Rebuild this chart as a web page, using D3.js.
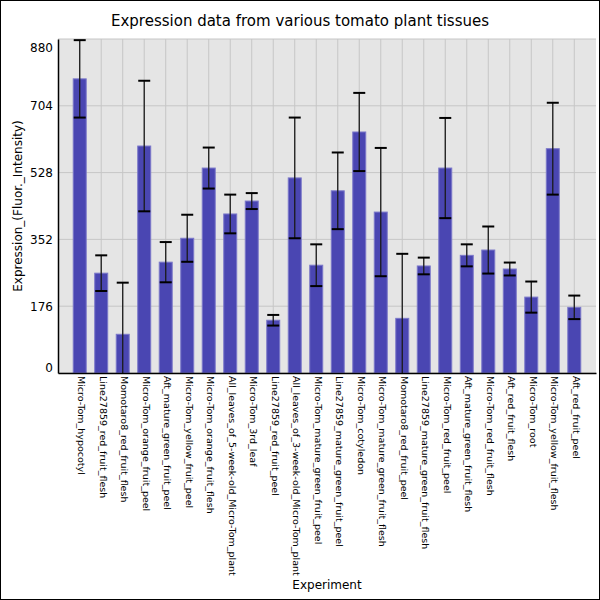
<!DOCTYPE html>
<meta charset="utf-8">
<html>
  <head>
    <title>Expression data from various tomato plant tissues</title>
    <script src="https://d3js.org/d3.v7.min.js"></script>
    <style>
      body {
        margin: 0;
        font-family: "DejaVu Sans", sans-serif;
      }
      .grid line {
        stroke: #c6c6c6;
        stroke-width: 1px;
      }
      .bar {
        fill: #4a46b2;
        stroke: #7b78c9;
        stroke-width: 1px;
      }
      .err {
        stroke: #1a1a1a;
        stroke-width: 1.3px;
      }
      .cap {
        stroke: #000;
        stroke-width: 2px;
      }
    </style>
  </head>
  <body>

    <svg id="chart" width="600" height="600"></svg>

    <script>
      // Dados
      const experiments = [
        "Micro-Tom_hypocotyl",
        "Line27859_red_fruit_flesh",
        "Momotaro8_red_fruit_flesh",
        "Micro-Tom_orange_fruit_peel",
        "Aft_mature_green_fruit_peel",
        "Micro-Tom_yellow_fruit_peel",
        "Micro-Tom_orange_fruit_flesh",
        "All_leaves_of_5-week-old_Micro-Tom_plant",
        "Micro-Tom_3rd_leaf",
        "Line27859_red_fruit_peel",
        "All_leaves_of_3-week-old_Micro-Tom_plant",
        "Micro-Tom_mature_green_fruit_peel",
        "Line27859_mature_green_fruit_peel",
        "Micro-Tom_cotyledon",
        "Micro-Tom_mature_green_fruit_flesh",
        "Momotaro8_red_fruit_peel",
        "Line27859_mature_green_fruit_flesh",
        "Micro-Tom_red_fruit_peel",
        "Aft_mature_green_fruit_flesh",
        "Micro-Tom_red_fruit_flesh",
        "Aft_red_fruit_flesh",
        "Micro-Tom_root",
        "Micro-Tom_yellow_fruit_flesh",
        "Aft_red_fruit_peel"
      ];
      const expression = [775, 263, 102, 598, 292, 355, 540, 419, 453, 139, 514, 284,
                          480, 635, 424, 144, 282, 540, 310, 324, 274, 200, 591, 173];
      const errors = [102, 47, 136, 172, 53, 62, 54, 51, 21, 14, 159, 55,
                      101, 103, 169, 170, 22, 132, 29, 62, 17, 41, 121, 31];
      const yTicks = [0, 176, 352, 528, 704, 880];

      const margin = {top: 39, right: 4, bottom: 227, left: 58};
      const width = 600, height = 600;

      const svg = d3.select("#chart");

      // moldura externa
      svg.append("rect")
         .attr("x", 0.5).attr("y", 0.5)
         .attr("width", width - 1).attr("height", height - 1)
         .attr("fill", "#fff").attr("stroke", "#000");

      const x = d3.scaleBand()
                  .domain(experiments)
                  .range([margin.left, width - margin.right])
                  .paddingInner(0.35)
                  .paddingOuter(0.685);

      const y = d3.scaleLinear()
                  .domain([0, 880])
                  .range([height - margin.bottom, margin.top]);

      // fundo do gráfico
      svg.append("rect")
         .attr("x", margin.left).attr("y", margin.top)
         .attr("width", width - margin.right - margin.left)
         .attr("height", height - margin.bottom - margin.top)
         .attr("fill", "#e5e5e5");

      // grades
      svg.append("g").attr("class", "grid")
         .selectAll("line")
         .data(yTicks)
         .join("line")
           .attr("x1", margin.left).attr("x2", width - margin.right)
           .attr("y1", d => y(d)).attr("y2", d => y(d));

      svg.append("g").attr("class", "grid")
         .selectAll("line")
         .data(experiments)
         .join("line")
           .attr("x1", d => x(d) + x.bandwidth() / 2)
           .attr("x2", d => x(d) + x.bandwidth() / 2)
           .attr("y1", margin.top).attr("y2", height - margin.bottom);

      // barras
      svg.append("g")
         .selectAll("rect")
         .data(experiments)
         .join("rect")
           .attr("class", "bar")
           .attr("x", d => x(d) + 0.5)
           .attr("width", x.bandwidth() - 1)
           .attr("y", (d, i) => y(expression[i]))
           .attr("height", (d, i) => y(0) - y(expression[i]));

      // barras de erro
      const errG = svg.append("g");
      experiments.forEach((d, i) => {
        const cx = x(d) + x.bandwidth() / 2;
        const hi = expression[i] + errors[i];
        const lo = Math.max(0, expression[i] - errors[i]);
        errG.append("line").attr("class", "err")
            .attr("x1", cx).attr("x2", cx)
            .attr("y1", y(hi)).attr("y2", y(lo));
        errG.append("line").attr("class", "cap")
            .attr("x1", cx - 6).attr("x2", cx + 6)
            .attr("y1", y(hi)).attr("y2", y(hi));
        if (expression[i] - errors[i] > 0) {
          errG.append("line").attr("class", "cap")
              .attr("x1", cx - 6).attr("x2", cx + 6)
              .attr("y1", y(lo)).attr("y2", y(lo));
        }
      });

      // eixo Y
      const yAxis = svg.append("g")
         .attr("transform", `translate(${margin.left},0)`)
         .call(d3.axisLeft(y).tickValues(yTicks).tickSize(0).tickPadding(5));
      yAxis.select(".domain").attr("stroke", "#000").attr("stroke-width", 1.5);
      yAxis.selectAll("text")
           .attr("font-family", "DejaVu Sans")
           .attr("font-size", 12)
           .attr("fill", "#000")
           .attr("dy", d => d === 880 ? "1em" : d === 0 ? "-0.15em" : "0.32em");

      // eixo X
      const xAxis = svg.append("g")
         .attr("transform", `translate(0,${height - margin.bottom})`)
         .call(d3.axisBottom(x).tickSize(0).tickPadding(0));
      xAxis.select(".domain").attr("stroke", "#000").attr("stroke-width", 1.5);
      xAxis.selectAll("text")
           .attr("font-family", "DejaVu Sans")
           .attr("font-size", 9.5)
           .attr("fill", "#000")
           .attr("text-anchor", "start")
           .attr("transform", "translate(2,3) rotate(90)")
           .attr("x", 0).attr("y", 0)
           .attr("dy", "0.35em");

      // títulos
      svg.append("text")
         .attr("x", 300).attr("y", 26)
         .attr("text-anchor", "middle")
         .attr("font-size", 15)
         .text("Expression data from various tomato plant tissues");

      svg.append("text")
         .attr("x", (margin.left + width - margin.right) / 2)
         .attr("y", 589)
         .attr("text-anchor", "middle")
         .attr("font-size", 12)
         .text("Experiment");

      svg.append("text")
         .attr("transform", `translate(22,${(margin.top + height - margin.bottom) / 2}) rotate(-90)`)
         .attr("text-anchor", "middle")
         .attr("font-size", 12)
         .text("Expression_(Fluor._Intensity)");
    </script>
  </body>
</html>
